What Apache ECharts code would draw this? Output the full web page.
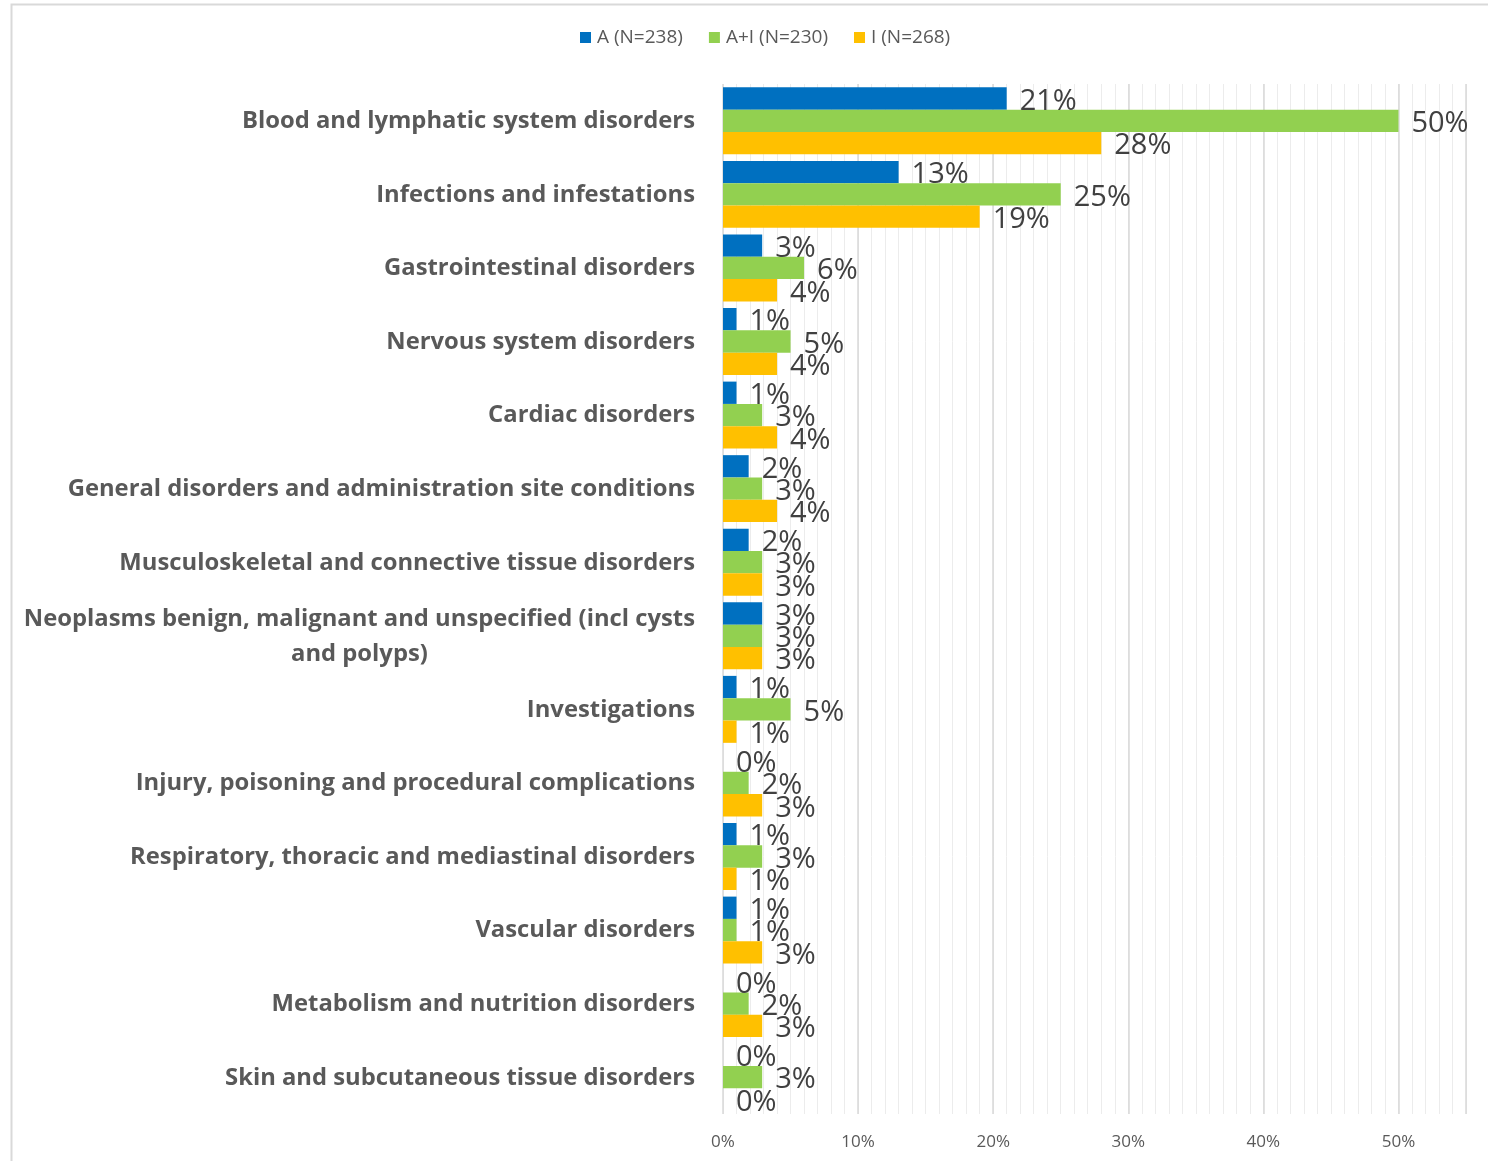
<!DOCTYPE html>
<html>
<head>
<meta charset="utf-8">
<script src="https://cdn.jsdelivr.net/npm/echarts@6/dist/echarts.min.js"></script>
<style>
html,body{margin:0;padding:0;background:#fff;}
#chart{width:1488px;height:1161px;}
</style>
</head>
<body>
<div id="chart"></div>
<script>
var categories = [
  'Blood and lymphatic system disorders',
  'Infections and infestations',
  'Gastrointestinal disorders',
  'Nervous system disorders',
  'Cardiac disorders',
  'General disorders and administration site conditions',
  'Musculoskeletal and connective tissue disorders',
  'Neoplasms benign, malignant and unspecified (incl cysts\nand polyps)',
  'Investigations',
  'Injury, poisoning and procedural complications',
  'Respiratory, thoracic and mediastinal disorders',
  'Vascular disorders',
  'Metabolism and nutrition disorders',
  'Skin and subcutaneous tissue disorders'
];
var seriesNames = ['A (N=238)', 'A+I (N=230)', 'I (N=268)'];
var valuesA  = [21, 13, 2.9, 1.0, 1.0, 1.9, 1.9, 2.9, 1.0, 0, 1.0, 1.0, 0, 0];
var valuesAI = [50, 25, 6.0, 5.0, 2.9, 2.9, 2.9, 2.9, 5.0, 1.9, 2.9, 1.0, 1.9, 2.9];
var valuesI  = [28, 19, 4.0, 4.0, 4.0, 4.0, 2.9, 2.9, 1.0, 2.9, 1.0, 2.9, 2.9, 0];
var colors = ['#0070C0', '#92D050', '#FFC000'];
var xTickLabels = ['0%', '10%', '20%', '30%', '40%', '50%'];

var chart = echarts.init(document.getElementById('chart'));

function mkSeries(name, data, color) {
  return {
    name: name,
    type: 'bar',
    data: data,
    xAxisIndex: 0,
    barGap: '0%',
    barCategoryGap: '9%',
    itemStyle: { color: color },
    label: {
      show: true,
      position: 'right',
      distance: 13,
      offset: [0, 3],
      fontFamily: 'Open Sans',
      fontSize: 29,
      color: '#404040',
      formatter: function (p) { return Math.round(p.value) + '%'; }
    }
  };
}

var option = {
  animation: false,
  backgroundColor: '#fff',
  color: colors,
  graphic: [{
    type: 'rect',
    shape: { x: 11.5, y: 4.5, width: 2000, height: 2000 },
    style: { fill: 'none', stroke: '#d9d9d9', lineWidth: 2 },
    silent: true, z: -10
  }],
  legend: {
    left: 575,
    top: 23,
    itemWidth: 11,
    itemHeight: 11,
    itemGap: 26,
    icon: 'rect',
    textStyle: { fontFamily: 'Open Sans', fontSize: 19, color: '#595959', padding: [0, 0, 0, 1] },
    data: seriesNames
  },
  grid: { left: 723, right: 22, top: 84, bottom: 47, containLabel: false },
  xAxis: [{
    type: 'value',
    min: 0, max: 55, interval: 10,
    axisLine: { show: false },
    axisTick: { show: false },
    splitLine: { show: true, lineStyle: { color: '#d9d9d9', width: 1.5 } },
    axisLabel: {
      fontFamily: 'Liberation Sans Narrow, Open Sans',
      fontSize: 17,
      color: '#595959',
      margin: 20,
      formatter: function (v) {
        var i = Math.round(v / 10);
        return (v % 10 === 0 && i < xTickLabels.length) ? xTickLabels[i] : '';
      }
    }
  }, {
    type: 'value',
    position: 'bottom',
    min: 0, max: 55, interval: 1,
    axisLine: { show: false },
    axisTick: { show: false },
    axisLabel: { show: false },
    splitLine: { show: true, lineStyle: { color: '#ececec', width: 1 } },
    z: -1
  }],
  yAxis: {
    type: 'category',
    inverse: true,
    data: categories,
    axisLine: { show: false },
    axisTick: { show: false },
    axisLabel: {
      margin: 28,
      padding: [1, 0, 0, 0],
      formatter: function (v) {
        return v.split('\n').map(function (s) { return '{c|' + s + '}'; }).join('\n');
      },
      rich: {
        c: {
          fontFamily: 'Open Sans',
          fontWeight: 'bold',
          fontSize: 23.8,
          color: '#595959',
          align: 'center',
          lineHeight: 35
        }
      }
    }
  },
  series: [
    mkSeries(seriesNames[0], valuesA, colors[0]),
    mkSeries(seriesNames[1], valuesAI, colors[1]),
    mkSeries(seriesNames[2], valuesI, colors[2])
  ]
};
chart.setOption(option);
</script>
</body>
</html>
